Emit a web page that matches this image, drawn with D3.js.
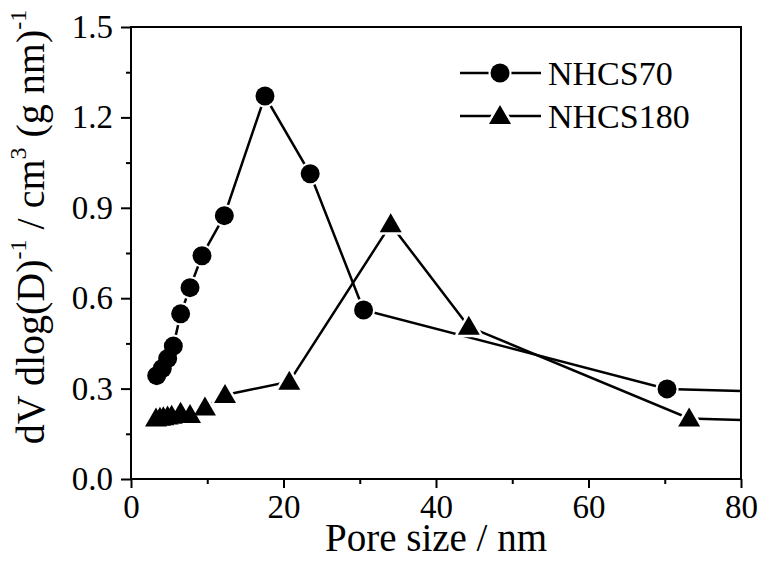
<!DOCTYPE html>
<html>
<head>
<meta charset="utf-8">
<script src="https://cdn.jsdelivr.net/npm/d3@7"></script>
<style>
  body { margin: 0; background: #fff; }
  text { font-family: "Liberation Serif", "Times New Roman", serif; fill: #000; }
</style>
</head>
<body>
<script>
// pore size distribution data
var nhcs70X = [3.37, 4.1, 4.81, 5.55, 6.51, 7.74, 9.31, 12.24, 17.57, 23.5, 30.5, 70.3, 100];
var nhcs70Y = [0.343, 0.367, 0.40, 0.441, 0.548, 0.635, 0.741, 0.874, 1.271, 1.013, 0.561, 0.299, 0.278];
var nhcs180X = [3.28, 3.8, 4.24, 4.8, 5.33, 6.5, 7.74, 9.7, 12.33, 20.76, 34.06, 44.3, 73.2, 100];
var nhcs180Y = [0.201, 0.203, 0.205, 0.207, 0.21, 0.22, 0.212, 0.237, 0.279, 0.323, 0.845, 0.505, 0.201, 0.181];
var xTicks = [0, 20, 40, 60, 80];
var yTicks = [0.0, 0.3, 0.6, 0.9, 1.2, 1.5];
var seriesNames = ['NHCS70', 'NHCS180'];

var width = 761, height = 561;
var plotL = 131, plotR = 741, plotT = 27, plotB = 479;

var svg = d3.select('body').append('svg').attr('width', width).attr('height', height);

var x = d3.scaleLinear().domain([0, 80]).range([plotL, plotR]);
var y = d3.scaleLinear().domain([0, 1.5]).range([plotB, plotT]);

svg.append('clipPath').attr('id', 'plot')
  .append('rect').attr('x', plotL).attr('y', plotT).attr('width', plotR - plotL).attr('height', plotB - plotT);

// minor ticks first
svg.append('g').attr('transform', 'translate(0,' + plotB + ')')
  .call(d3.axisBottom(x).tickValues(d3.range(10, 80, 20)).tickSize(5).tickFormat(''))
  .call(function (g) { g.select('.domain').remove(); g.selectAll('line').attr('stroke-width', 2); });
svg.append('g').attr('transform', 'translate(' + plotL + ',0)')
  .call(d3.axisLeft(y).tickValues([0.15, 0.45, 0.75, 1.05, 1.35]).tickSize(5).tickFormat(''))
  .call(function (g) { g.select('.domain').remove(); g.selectAll('line').attr('stroke-width', 2); });

// major ticks + labels
var xAxis = svg.append('g').attr('transform', 'translate(0,' + plotB + ')')
  .call(d3.axisBottom(x).tickValues(xTicks).tickSize(9).tickPadding(7).tickFormat(d3.format('d')));
xAxis.select('.domain').remove();
xAxis.selectAll('line').attr('stroke-width', 2);
xAxis.selectAll('text').attr('font-size', 33).attr('font-family', 'Liberation Serif');

var yAxis = svg.append('g').attr('transform', 'translate(' + plotL + ',0)')
  .call(d3.axisLeft(y).tickValues(yTicks).tickSize(10).tickPadding(8).tickFormat(d3.format('.1f')));
yAxis.select('.domain').remove();
yAxis.selectAll('line').attr('stroke-width', 2);
yAxis.selectAll('text').attr('font-size', 33).attr('font-family', 'Liberation Serif');

// frame
svg.append('rect').attr('x', plotL).attr('y', plotT).attr('width', plotR - plotL).attr('height', plotB - plotT)
  .attr('fill', 'none').attr('stroke', '#000').attr('stroke-width', 2);

var triPath = 'M0,-11L-11,8L11,8Z';

// halo = white stroke only, drawn under every black marker so lines get a small gap
function drawMark(sel, kind, halo) {
  if (kind === 'circle') {
    sel.append('circle').attr('r', halo ? 11.5 : 9.5).attr('fill', halo ? '#fff' : '#000');
  } else {
    sel.append('path').attr('d', triPath).attr('fill', halo ? '#fff' : '#000')
      .attr('stroke', halo ? '#fff' : 'none').attr('stroke-width', 5).attr('stroke-linejoin', 'round');
  }
}

var line = d3.line().x(function (d) { return x(d[0]); }).y(function (d) { return y(d[1]); });
var plot = svg.append('g').attr('clip-path', 'url(#plot)');

var s70 = d3.zip(nhcs70X, nhcs70Y);
var s180 = d3.zip(nhcs180X, nhcs180Y);
var series = [{ data: s70, kind: 'circle' }, { data: s180, kind: 'tri' }];

series.forEach(function (s) {
  plot.append('path').datum(s.data).attr('d', line).attr('fill', 'none')
    .attr('stroke', '#000').attr('stroke-width', 2.5);
});

[true, false].forEach(function (halo) {
  series.forEach(function (s) {
    plot.append('g').selectAll('g').data(s.data.filter(function (d) { return d[0] <= 80; })).enter().append('g')
      .attr('transform', function (d) { return 'translate(' + x(d[0]) + ',' + y(d[1]) + ')'; })
      .each(function () { drawMark(d3.select(this), s.kind, halo); });
  });
});

// legend
var legend = svg.append('g');
seriesNames.forEach(function (name, i) {
  var ly = 73 + i * 43;
  var g = legend.append('g').attr('transform', 'translate(0,' + ly + ')');
  g.append('line').attr('x1', 460).attr('x2', 541).attr('y1', 0).attr('y2', 0)
    .attr('stroke', '#000').attr('stroke-width', 2.5);
  var m = g.append('g').attr('transform', 'translate(500,0)');
  drawMark(m, i === 0 ? 'circle' : 'tri', true);
  drawMark(m, i === 0 ? 'circle' : 'tri', false);
  g.append('text').attr('x', 548).attr('y', 12).attr('font-size', 34).text(name);
});

// axis titles
svg.append('text').attr('x', (plotL + plotR) / 2).attr('y', 551).attr('text-anchor', 'middle')
  .attr('font-size', 39).text('Pore size / nm');

var yt = svg.append('text').attr('transform', 'translate(44,227) rotate(-90)')
  .attr('text-anchor', 'middle').attr('font-size', 40);
yt.append('tspan').text('dV dlog(D)');
yt.append('tspan').attr('font-size', 24).attr('dy', -18).text('-1');
yt.append('tspan').attr('dy', 18).text(' / cm');
yt.append('tspan').attr('font-size', 24).attr('dy', -18).text('3');
yt.append('tspan').attr('dy', 18).text(' (g nm)');
yt.append('tspan').attr('font-size', 24).attr('dy', -18).text('-1');
</script>
</body>
</html>
